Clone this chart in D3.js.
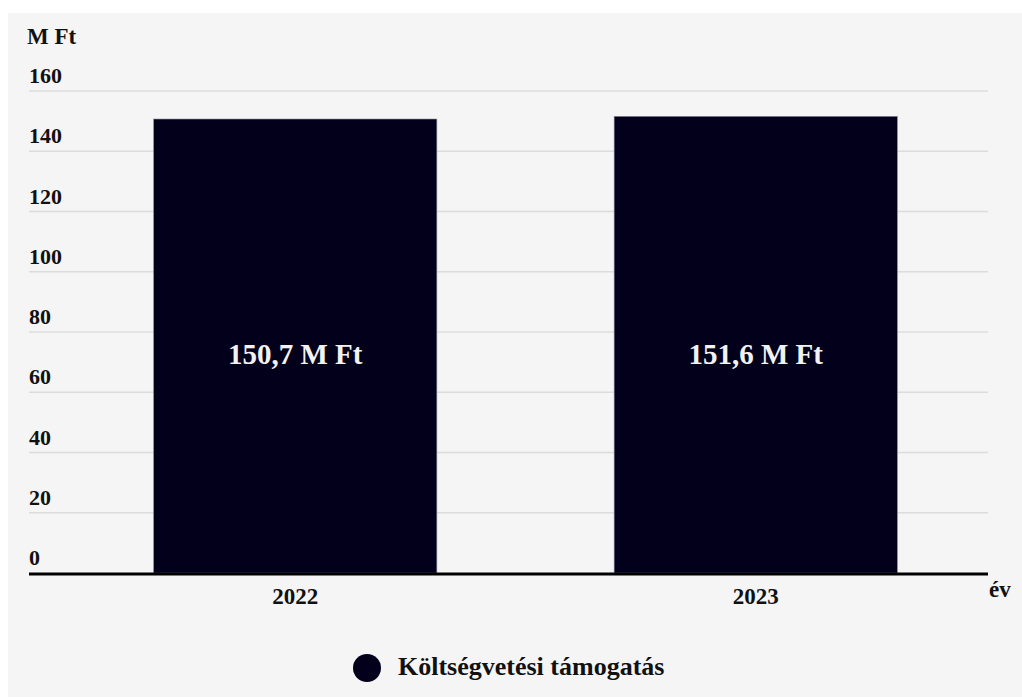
<!DOCTYPE html>
<html><head><meta charset="utf-8">
<script src="https://cdn.jsdelivr.net/npm/d3@7/dist/d3.min.js"></script>
<style>
html,body{margin:0;padding:0;background:#fff;}
svg{display:block;}
text{font-family:"Liberation Serif","DejaVu Serif",serif;font-weight:bold;}
</style></head>
<body>
<svg id="c" width="1022" height="697"></svg>
<script>
const categories = ["2022", "2023"];
const values = [150.7, 151.6];
const valueLabels = ["150,7 M Ft", "151,6 M Ft"];
const yTicks = [0, 20, 40, 60, 80, 100, 120, 140, 160];
const seriesName = "Költségvetési támogatás";
const yUnit = "M Ft";
const xUnit = "év";

const svg = d3.select("#c");
svg.append("rect").attr("x", 8).attr("y", 13).attr("width", 1014).attr("height", 684).attr("fill", "#f5f5f5");

const plotL = 29, plotR = 988, yTop = 91, yBot = 573;
const y = d3.scaleLinear().domain([0, 160]).range([yBot, yTop]);
const x = d3.scaleBand().domain(categories).range([65, 986]).paddingInner(0.385).paddingOuter(0.1925);

// gridlines
svg.append("g").selectAll("line").data(yTicks.filter(d => d > 0)).join("line")
  .attr("x1", plotL).attr("x2", plotR)
  .attr("y1", d => y(d)).attr("y2", d => y(d))
  .attr("stroke", "#dcdcdc").attr("stroke-width", 1.5);

// tick labels (above lines)
svg.append("g").selectAll("text").data(yTicks).join("text")
  .attr("x", plotL).attr("y", d => y(d) - 8)
  .attr("font-size", 22).attr("fill", "#111")
  .text(d => d);

svg.append("text").attr("x", 27).attr("y", 44).attr("font-size", 23).attr("fill", "#111").text(yUnit);

// bars
svg.append("g").selectAll("rect").data(values).join("rect")
  .attr("x", (d, i) => x(categories[i]))
  .attr("width", x.bandwidth())
  .attr("y", d => y(d))
  .attr("height", d => yBot - y(d))
  .attr("fill", "#03001c")
  .attr("stroke", "#8a8aa0").attr("stroke-width", 0.6);

// bar labels
svg.append("g").selectAll("text").data(values).join("text")
  .attr("x", (d, i) => x(categories[i]) + x.bandwidth() / 2)
  .attr("y", 364)
  .attr("text-anchor", "middle").attr("font-size", 29).attr("fill", "#f2f2f2")
  .text((d, i) => valueLabels[i]);

// x axis
svg.append("line").attr("x1", plotL).attr("x2", plotR).attr("y1", yBot + 1).attr("y2", yBot + 1)
  .attr("stroke", "#000").attr("stroke-width", 3);

svg.append("g").selectAll("text").data(categories).join("text")
  .attr("x", d => x(d) + x.bandwidth() / 2)
  .attr("y", 604).attr("text-anchor", "middle").attr("font-size", 23).attr("fill", "#111")
  .text(d => d);

svg.append("text").attr("x", 989).attr("y", 597).attr("font-size", 23).attr("fill", "#111").text(xUnit);

// legend
svg.append("circle").attr("cx", 367).attr("cy", 668).attr("r", 14).attr("fill", "#03001c");
svg.append("text").attr("x", 398).attr("y", 675).attr("font-size", 26).attr("fill", "#111").text(seriesName);
</script>
</body></html>
